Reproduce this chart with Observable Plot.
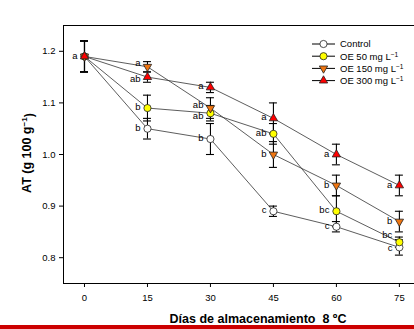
<!DOCTYPE html>
<html><head><meta charset="utf-8">
<script src="https://cdn.jsdelivr.net/npm/d3@7"></script>
<script src="https://cdn.jsdelivr.net/npm/@observablehq/plot@0.6"></script>
<style>
body{margin:0;background:#fff;font-family:"Liberation Sans",Arial,sans-serif}
#wrap{position:relative;width:414px;height:329px;overflow:hidden;background:#fff}
#bar{position:absolute;left:0;top:325px;width:414px;height:4px;background:#cc0000}
</style></head><body><div id="wrap"><div id="bar"></div></div>
<script>
// ---- data ----
const days = [0, 15, 30, 45, 60, 75];
const xTicks = [0, 15, 30, 45, 60, 75];
const yTicks = [0.8, 0.9, 1.0, 1.1, 1.2];
const seriesNames = ["Control", "OE 50 mg L", "OE 150 mg L", "OE 300 mg L"];
const control = [1.19, 1.05, 1.03, 0.89, 0.86, 0.82];
const controlErr = [0.03, 0.02, 0.03, 0.01, 0.01, 0.015];
const controlLetters = ["", "b", "b", "c", "c", "c"];
const oe50 = [1.19, 1.09, 1.08, 1.04, 0.89, 0.83];
const oe50Err = [0.03, 0.025, 0.015, 0.02, 0.03, 0.01];
const oe50Letters = ["", "b", "ab", "ab", "bc", "bc"];
const oe150 = [1.19, 1.17, 1.09, 1.00, 0.94, 0.87];
const oe150Err = [0.03, 0.01, 0.02, 0.025, 0.02, 0.02];
const oe150Letters = ["", "a", "ab", "b", "b", "b"];
const oe300 = [1.19, 1.15, 1.13, 1.07, 1.00, 0.94];
const oe300Err = [0.03, 0.01, 0.01, 0.03, 0.02, 0.02];
const oe300Letters = ["a", "ab", "a", "a", "a", "a"];

// ---- styling ----
const triangleDown = {
  draw(context, size) {
    const s3 = Math.sqrt(3);
    const y = -Math.sqrt(size / (s3 * 3));
    context.moveTo(0, -y * 2);
    context.lineTo(-s3 * y, y);
    context.lineTo(s3 * y, y);
    context.closePath();
  }
};
const series = [
  {name: seriesNames[0], values: control, err: controlErr, letters: controlLetters, fill: "#ffffff", symbol: "circle", r: 3.6},
  {name: seriesNames[1], values: oe50, err: oe50Err, letters: oe50Letters, fill: "#ffff00", symbol: "circle", r: 3.6},
  {name: seriesNames[2], values: oe150, err: oe150Err, letters: oe150Letters, fill: "#ee7511", symbol: triangleDown, r: 3.1},
  {name: seriesNames[3], values: oe300, err: oe300Err, letters: oe300Letters, fill: "#ff0000", symbol: "triangle", r: 3.1}
];
// small vertical nudges (px) of significance letters to avoid collisions, as in the original
const letterNudge = {"OE 50 mg L|30": 4, "OE 150 mg L|30": -2, "OE 50 mg L|75": -6, "Control|75": 2, "OE 300 mg L|15": 3, "OE 150 mg L|15": -3};
const rowsOf = s => days.map((d, i) => ({series: s.name, day: d, value: s.values[i], err: s.err[i], letter: s.letters[i]}));
const allRows = series.flatMap(rowsOf);
const capHalf = 0.95;
const font = "'Liberation Sans', Arial, sans-serif";

const marks = [
  Plot.ruleX([-5], {stroke: "#000", strokeWidth: 1}),
  Plot.ruleY([0.75, 1.25], {stroke: "#000", strokeWidth: 1}),
  Plot.line(allRows, {x: "day", y: "value", z: "series", stroke: "#333", strokeWidth: 0.8})
];
for (const s of series) {
  const rows = rowsOf(s);
  marks.push(
    Plot.ruleX(rows, {x: "day", y1: d => d.value - d.err, y2: d => d.value + d.err, stroke: "#000", strokeWidth: 1.1}),
    Plot.ruleY(rows, {y: d => d.value - d.err, x1: d => d.day - capHalf, x2: d => d.day + capHalf, stroke: "#000", strokeWidth: 1.1}),
    Plot.ruleY(rows, {y: d => d.value + d.err, x1: d => d.day - capHalf, x2: d => d.day + capHalf, stroke: "#000", strokeWidth: 1.1})
  );
}
for (const s of series) {
  const rows = rowsOf(s);
  marks.push(Plot.dot(rows, {x: "day", y: "value", symbol: s.symbol, r: s.r, fill: s.fill, stroke: "#222", strokeWidth: 0.8}));
}
const dyGroups = d3.group(allRows.filter(d => d.letter), d => letterNudge[d.series + "|" + d.day] || 0);
for (const [nudge, rows] of dyGroups) {
  marks.push(Plot.text(rows, {x: "day", y: "value", text: "letter", textAnchor: "end", dx: -7, dy: -1 + nudge, fontSize: 9.5, fill: "#000"}));
}

const chart = Plot.plot({
  width: 414, height: 325,
  marginLeft: 63, marginRight: 0, marginTop: 25, marginBottom: 42,
  style: {fontFamily: font, fontSize: "9.5px", color: "#000", background: "#fff"},
  x: {domain: [-5, 78.6], ticks: xTicks, tickSize: 4, tickPadding: 7, label: null},
  y: {domain: [0.75, 1.25], ticks: yTicks, tickFormat: d3.format(".1f"), tickSize: 4, tickPadding: 4, label: null},
  marks
});
const wrap = document.getElementById("wrap");
wrap.insertBefore(chart, wrap.firstChild);

// ---- extra text: axis titles and legend ----
const svg = d3.select(chart);
const yl = svg.append("text")
  .attr("transform", "translate(31,153) rotate(-90)")
  .attr("text-anchor", "middle")
  .attr("font-family", font).attr("font-weight", "bold").attr("font-size", 12.5).attr("fill", "#000");
yl.append("tspan").text("AT (g 100 g");
yl.append("tspan").attr("dy", "-0.5em").attr("font-size", "0.65em").text("−1");
yl.append("tspan").attr("dy", "0.5em").text(")");

svg.append("text")
  .attr("x", 258).attr("y", 323)
  .attr("text-anchor", "middle")
  .style("white-space", "pre")
  .attr("font-family", font).attr("font-weight", "bold").attr("font-size", 12.5).attr("fill", "#000")
  .text("Días de almacenamiento  8 ºC");

const lg = svg.append("g").attr("font-family", font).attr("font-size", 9.5).attr("text-anchor", "start");
series.forEach((s, i) => {
  const y = 44 + i * 12.2;
  lg.append("line").attr("x1", 312).attr("x2", 335).attr("y1", y).attr("y2", y).attr("stroke", "#000").attr("stroke-width", 1);
  const type = s.symbol === "circle" ? d3.symbolCircle : s.symbol === "triangle" ? d3.symbolTriangle : triangleDown;
  lg.append("path").attr("transform", `translate(323.5,${y})`)
    .attr("d", d3.symbol(type, Math.PI * s.r * s.r)())
    .attr("fill", s.fill).attr("stroke", "#222").attr("stroke-width", 0.8);
  const t = lg.append("text").attr("x", 340).attr("y", y).attr("dy", "0.35em").attr("fill", "#000").attr("text-anchor", "start");
  t.append("tspan").text(s.name);
  if (i > 0) t.append("tspan").attr("dy", "-0.45em").attr("font-size", "0.7em").text("−1");
});
</script>
</body></html>
